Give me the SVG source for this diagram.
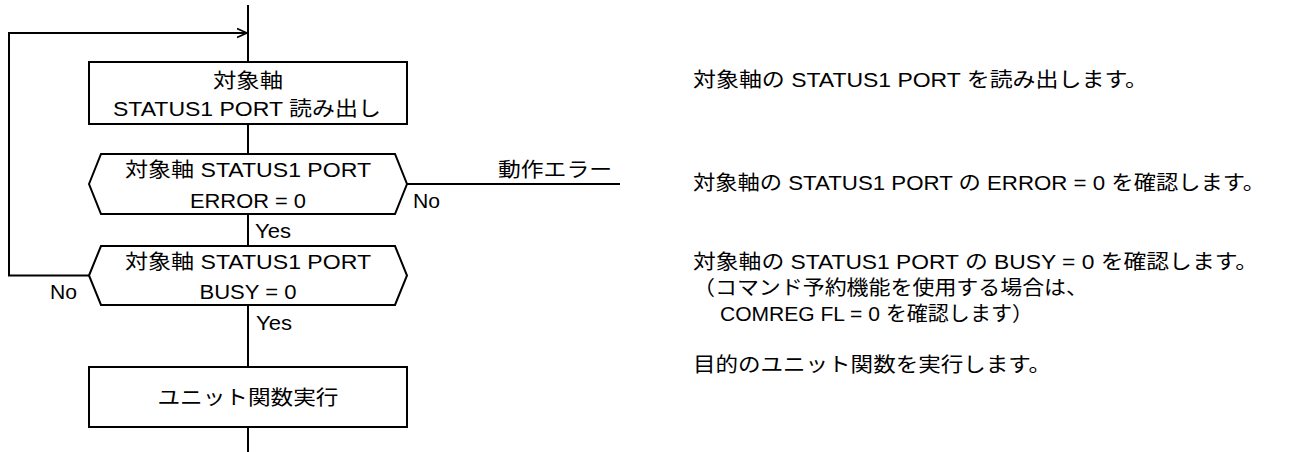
<svg xmlns="http://www.w3.org/2000/svg" width="1292" height="452" viewBox="0 0 1292 452">
<style>
.s{fill:none;stroke:#000;stroke-width:2}
.t{font-family:"Liberation Sans","Noto Sans CJK JP",sans-serif;font-size:20px;fill:#000}
.c{text-anchor:middle}
</style>
<defs>
<marker id="ah" markerWidth="12" markerHeight="12" refX="10" refY="5" orient="auto" markerUnits="userSpaceOnUse" viewBox="0 0 12 10">
<path d="M0,0.5 L10,5 L0,9.5" fill="none" stroke="#000" stroke-width="1.6"/>
</marker>
</defs>
<rect width="1292" height="452" fill="#fff"/>
<g id="connectors">
<line class="s" x1="248" y1="5" x2="248" y2="62"/>
<polyline class="s" points="89,275.5 9,275.5 9,33 247,33" marker-end="url(#ah)"/>
<line class="s" x1="248" y1="124" x2="248" y2="154"/>
<line class="s" x1="248" y1="214" x2="248" y2="246"/>
<line class="s" x1="407" y1="184" x2="620" y2="184"/>
<line class="s" x1="248" y1="305" x2="248" y2="367"/>
<line class="s" x1="248" y1="427" x2="248" y2="452"/>
<text class="t" x="255" y="238" textLength="36" lengthAdjust="spacingAndGlyphs">Yes</text>
<text class="t" x="256" y="330" textLength="36" lengthAdjust="spacingAndGlyphs">Yes</text>
<text class="t" x="413" y="208" textLength="27" lengthAdjust="spacingAndGlyphs">No</text>
<text class="t" x="50" y="299" textLength="27" lengthAdjust="spacingAndGlyphs">No</text>
<text class="t" x="498" y="177" textLength="114" lengthAdjust="spacingAndGlyphs">動作エラー</text>
</g>
<g id="read">
<rect class="s" x="89" y="62" width="318" height="62"/>
<text class="t c" x="248" y="88" textLength="70" lengthAdjust="spacingAndGlyphs">対象軸</text>
<text class="t c" x="247" y="116" textLength="268" lengthAdjust="spacingAndGlyphs">STATUS1 PORT 読み出し</text>
</g>
<g id="error">
<polygon class="s" points="89,184 101,154 395,154 407,184 395,214 101,214"/>
<text class="t c" x="248" y="177" textLength="246" lengthAdjust="spacingAndGlyphs">対象軸 STATUS1 PORT</text>
<text class="t c" x="248" y="208" textLength="116" lengthAdjust="spacingAndGlyphs">ERROR = 0</text>
</g>
<g id="busy">
<polygon class="s" points="89,275.5 101,246 395,246 407,275.5 395,305 101,305"/>
<text class="t c" x="248" y="269" textLength="246" lengthAdjust="spacingAndGlyphs">対象軸 STATUS1 PORT</text>
<text class="t c" x="248" y="299" textLength="97" lengthAdjust="spacingAndGlyphs">BUSY = 0</text>
</g>
<g id="exec">
<rect class="s" x="89" y="367" width="318" height="60"/>
<text class="t c" x="248" y="405" textLength="181" lengthAdjust="spacingAndGlyphs">ユニット関数実行</text>
</g>
<g id="notes">
<text class="t" x="693" y="87" textLength="455" lengthAdjust="spacingAndGlyphs">対象軸の STATUS1 PORT を読み出します。</text>
<text class="t" x="693" y="190" textLength="572" lengthAdjust="spacingAndGlyphs">対象軸の STATUS1 PORT の ERROR = 0 を確認します。</text>
<text class="t" x="693" y="269" textLength="565" lengthAdjust="spacingAndGlyphs">対象軸の STATUS1 PORT の BUSY = 0 を確認します。</text>
<text class="t" x="693" y="295" textLength="395" lengthAdjust="spacingAndGlyphs">（コマンド予約機能を使用する場合は、</text>
<text class="t" x="720" y="321" textLength="313" lengthAdjust="spacingAndGlyphs">COMREG FL = 0 を確認します）</text>
<text class="t" x="693" y="372" textLength="358" lengthAdjust="spacingAndGlyphs">目的のユニット関数を実行します。</text>
</g>
</svg>
